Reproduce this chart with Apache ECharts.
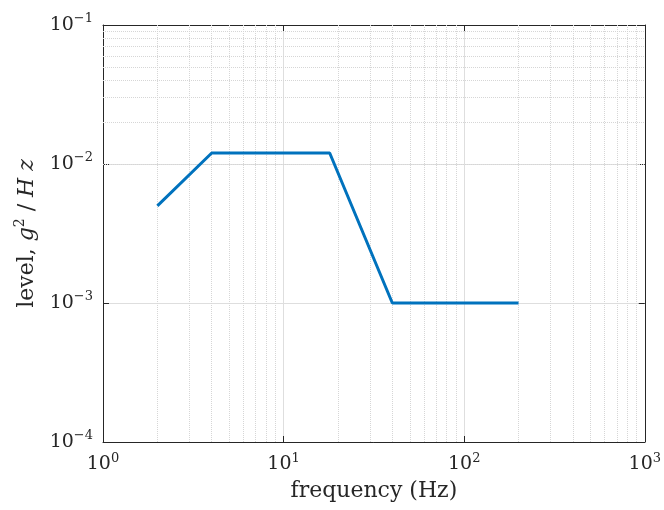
<!DOCTYPE html>
<html>
<head>
<meta charset="utf-8">
<script src="https://cdn.jsdelivr.net/npm/echarts@6/dist/echarts.min.js"></script>
<style>
  html, body { margin: 0; padding: 0; background: #fff; }
  #psd { width: 664px; height: 510px; }
</style>
</head>
<body>
<div id="psd"></div>
<script>
// test spectrum breakpoints
var freq = [2, 4, 18, 40, 200];
var level = [0.005, 0.012, 0.012, 0.001, 0.001];

var xRange = [1, 1000];
var yRange = [0.0001, 0.1];

var serif = 'DejaVu Serif';
var gridColor = '#dedede';

// minor grid positions 2..9 in every decade
function minorLines(lo, hi) {
    var out = [];
    for (var d = lo; d < hi; d *= 10) {
        for (var k = 2; k <= 9; k++) {
            out.push(+(d * k).toPrecision(3));
        }
    }
    return out;
}
var xMinor = minorLines(xRange[0], xRange[1]);
var yMinor = minorLines(yRange[0], yRange[1]);

var powRich = {
    b: { fontSize: 19, fontFamily: serif, color: '#262626' },
    s: { fontSize: 13, fontFamily: serif, color: '#262626', padding: [0, 0, 12, 0] }
};

function powLabel(v) {
    var e = Math.round(Math.log(v) / Math.LN10);
    var txt = e < 0 ? '\u2212' + (-e) : '' + e;
    return '{b|10}{s|' + txt + '}';
}

var myChart = echarts.init(document.getElementById('psd'));

var markX = xMinor.map(function (v) { return { xAxis: v }; });
var markY = yMinor.map(function (v) { return { yAxis: v }; });

var option = {
    animation: false,
    backgroundColor: '#fff',
    grid: { left: 103, right: 17, top: 25, bottom: 68, show: false },
    xAxis: [{
        type: 'log', logBase: 10, min: xRange[0], max: xRange[1],
        name: 'frequency (Hz)', nameLocation: 'middle', nameGap: 38,
        nameTextStyle: { fontFamily: serif, fontSize: 22, color: '#262626' },
        axisLine: { show: true, lineStyle: { color: '#262626', width: 1 } },
        axisTick: { show: true, inside: true, length: 6, lineStyle: { color: '#262626' } },
        axisLabel: { formatter: powLabel, rich: powRich, margin: 10 },
        splitLine: { show: true, lineStyle: { color: gridColor, width: 1 } }
    }, {
        type: 'log', logBase: 10, min: xRange[0], max: xRange[1], position: 'top',
        axisLine: { show: true, lineStyle: { color: '#262626', width: 1 } },
        axisTick: { show: true, inside: true, length: 6, lineStyle: { color: '#262626' } },
        axisLabel: { show: false },
        splitLine: { show: false }
    }],
    yAxis: [{
        type: 'log', logBase: 10, min: yRange[0], max: yRange[1],
        name: '{a|level, }{i|g}{s|2}{a| / }{i|H z}', nameLocation: 'middle', nameGap: 62, nameRotate: 90,
        nameTextStyle: {
            rich: {
                a: { fontSize: 22, fontFamily: serif, color: '#262626' },
                i: { fontSize: 22, fontFamily: serif, fontStyle: 'italic', color: '#262626' },
                s: { fontSize: 14, fontFamily: serif, color: '#262626', padding: [0, 0, 14, 0] }
            }
        },
        axisLine: { show: true, lineStyle: { color: '#262626', width: 1 } },
        axisTick: { show: true, inside: true, length: 6, lineStyle: { color: '#262626' } },
        axisLabel: { formatter: powLabel, rich: powRich, margin: 10 },
        splitLine: { show: true, lineStyle: { color: gridColor, width: 1 } }
    }, {
        type: 'log', logBase: 10, min: yRange[0], max: yRange[1], position: 'right',
        axisLine: { show: true, lineStyle: { color: '#262626', width: 1 } },
        axisTick: { show: true, inside: true, length: 6, lineStyle: { color: '#262626' } },
        axisLabel: { show: false },
        splitLine: { show: false }
    }],
    series: [{
        name: 'minor grid',
        type: 'line',
        data: [],
        silent: true,
        z: 1,
        markLine: {
            silent: true,
            symbol: 'none',
            label: { show: false },
            lineStyle: { color: '#d6d6d6', type: 'dotted', width: 1 },
            data: markX.concat(markY)
        }
    }, {
        name: 'level',
        type: 'line',
        data: freq.map(function (f, i) { return [f, level[i]]; }),
        symbol: 'none',
        z: 5,
        lineStyle: { color: '#0072BD', width: 3 }
    }]
};

myChart.setOption(option);
</script>
</body>
</html>
